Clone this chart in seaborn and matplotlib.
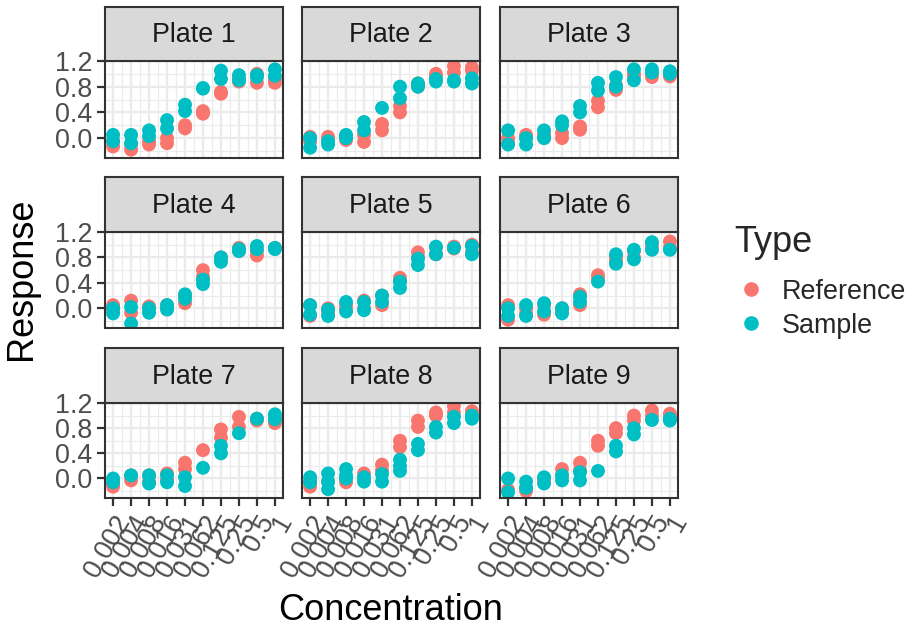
import matplotlib
matplotlib.use("Agg")
import matplotlib.pyplot as plt
from matplotlib.lines import Line2D
import pandas as pd
import seaborn as sns

sns.set_theme(style="white")
plt.rcParams["font.family"] = ["Liberation Sans", "DejaVu Sans"]

# Dilution series (x axis categories)
concentrations = ["0.002", "0.004", "0.008", "0.016", "0.031",
                  "0.062", "0.125", "0.25", "0.5", "1"]
type_order = ["Reference", "Sample"]
palette = {"Reference": "#F8766D", "Sample": "#00BFC4"}

# Replicate responses per concentration, one list per plate and type
reference_1 = [[-0.05, -0.13], [-0.10, -0.18], [-0.05, -0.10], [0.00, -0.08], [0.20, 0.15],
               [0.42, 0.38], [0.72, 0.69], [0.93, 0.88], [1.00, 0.86], [0.92, 0.86]]
sample_1 = [[0.05, -0.05], [0.05, -0.08], [0.12, 0.03], [0.28, 0.15], [0.52, 0.42],
            [0.78, 0.77], [1.05, 0.92], [0.98, 0.90], [0.98, 0.95], [1.07, 0.97]]

reference_2 = [[0.02, -0.05], [0.02, -0.03], [0.02, -0.03], [0.05, -0.06], [0.22, 0.12],
               [0.50, 0.40], [0.85, 0.80], [1.00, 0.97], [1.12, 1.02], [1.10, 1.05]]
sample_2 = [[0.00, -0.15], [-0.05, -0.10], [0.05, 0.00], [0.25, 0.12], [0.47],
            [0.80, 0.62], [0.85, 0.80], [0.92, 0.88], [0.90, 0.88], [0.93, 0.85]]

reference_3 = [[0.00, -0.08], [0.05, 0.00], [0.05, 0.00], [0.08, 0.00], [0.18, 0.13],
               [0.58, 0.48], [0.82, 0.75], [1.00, 0.95], [1.00, 0.95], [1.00, 0.96]]
sample_3 = [[0.12, -0.10], [0.00, -0.10], [0.12, 0.00], [0.26, 0.20], [0.50, 0.40],
            [0.86, 0.74], [0.95, 0.80], [1.07, 0.90], [1.07, 1.02], [1.04, 1.00]]

reference_4 = [[0.05, -0.02], [0.12, -0.07], [0.03, -0.02], [0.05, 0.00], [0.20, 0.08],
               [0.60, 0.50], [0.80, 0.75], [0.95, 0.90], [0.90, 0.83], [0.95]]
sample_4 = [[0.00, -0.08], [0.02, -0.24], [0.00, -0.07], [0.05, -0.02], [0.22, 0.15],
            [0.45, 0.38], [0.80, 0.73], [0.93, 0.90], [0.98, 0.93], [0.95, 0.93]]

reference_5 = [[0.05, -0.12], [0.00, -0.06], [0.05, -0.02], [0.12, 0.00], [0.20, 0.05],
               [0.48, 0.42], [0.88, 0.80], [0.95, 0.85], [0.97, 0.94], [1.00, 0.88]]
sample_5 = [[0.05, -0.10], [-0.02, -0.12], [0.10, -0.05], [0.10, -0.03], [0.20, 0.10],
            [0.42, 0.32], [0.78, 0.68], [0.97, 0.85], [0.95], [0.98, 0.85]]

reference_6 = [[0.05, -0.18], [0.00, -0.08], [0.05, -0.10], [0.00, -0.05], [0.22, 0.05],
               [0.52, 0.46], [0.82, 0.75], [0.90, 0.80], [1.02, 0.95], [1.05, 0.95]]
sample_6 = [[0.00, -0.12], [0.05, -0.12], [0.08, -0.05], [0.00, -0.08], [0.18, 0.10],
            [0.42], [0.85, 0.70], [0.92, 0.77], [1.04, 0.92], [0.92]]

reference_7 = [[-0.08, -0.13], [0.05, -0.03], [0.05, -0.05], [0.08, -0.02], [0.25, 0.15],
               [0.45], [0.78, 0.65], [0.98, 0.82], [0.95, 0.92], [0.95, 0.88]]
sample_7 = [[0.00, -0.06], [0.05], [0.05, -0.08], [0.05, -0.06], [0.02, -0.12],
            [0.17], [0.52, 0.40], [0.72], [0.95], [1.02, 0.94]]

reference_8 = [[-0.05, -0.13], [-0.05], [0.00, -0.06], [0.08, 0.00], [0.22, 0.13],
               [0.60, 0.50], [0.92, 0.82], [1.05, 1.00], [1.15, 1.05], [1.07, 1.00]]
sample_8 = [[0.02, -0.06], [0.08, -0.05, -0.17], [0.15, 0.05, 0.00], [0.02, -0.05], [0.07, -0.05],
            [0.30, 0.20, 0.12], [0.55, 0.45], [0.82, 0.73], [0.98, 0.88], [1.00, 0.95]]

reference_9 = [[-0.18], [-0.15, -0.20], [0.00, -0.05], [0.15, 0.05], [0.25, 0.13],
               [0.60, 0.52], [0.80, 0.72], [1.00, 0.92], [1.08, 1.00], [1.03, 0.98]]
sample_9 = [[0.00, -0.22], [-0.05, -0.15], [0.02, -0.08], [0.05, -0.03], [0.10, -0.03],
            [0.12], [0.52, 0.43], [0.80, 0.70], [0.93], [0.95, 0.92]]

reference_sets = [reference_1, reference_2, reference_3, reference_4, reference_5,
                  reference_6, reference_7, reference_8, reference_9]
sample_sets = [sample_1, sample_2, sample_3, sample_4, sample_5,
               sample_6, sample_7, sample_8, sample_9]

records = []
for plate_no, (ref, smp) in enumerate(zip(reference_sets, sample_sets), start=1):
    for kind, series in (("Reference", ref), ("Sample", smp)):
        for ci, values in enumerate(series):
            for v in values:
                records.append({"Plate": f"Plate {plate_no}",
                                "Concentration": concentrations[ci],
                                "pos": ci + 1, "Type": kind, "Response": v})
df = pd.DataFrame(records)

W, H = 916, 632
fig = plt.figure(figsize=(W / 100, H / 100), dpi=100)


def rect(left, top, width, height):
    return [left / W, 1 - (top + height) / H, width / W, height / H]


col_left = [105, 302, 500]
panel_w = 178
strip_top = [7, 177, 348]
plot_top = [61, 232, 403]
plot_bot = [158, 328, 498]

BORDER = "#333333"
GRID = "#EBEBEB"
TICKTXT = "#4D4D4D"

for idx in range(9):
    r, c = divmod(idx, 3)
    plate = f"Plate {idx + 1}"
    sub = df[df["Plate"] == plate]

    ax = fig.add_axes(rect(col_left[c], plot_top[r], panel_w, plot_bot[r] - plot_top[r]))
    ax.set_facecolor("white")
    sns.scatterplot(data=sub, x="pos", y="Response", hue="Type", hue_order=type_order,
                    palette=palette, s=100, linewidth=0, legend=False, ax=ax, zorder=3)
    ax.set_xlim(0.55, 10.45)
    ax.set_ylim(-0.31, 1.19)
    ax.set_xticks(range(1, 11))
    ax.set_xticks([i + 0.5 for i in range(1, 10)], minor=True)
    ax.set_yticks([0.0, 0.4, 0.8, 1.2])
    ax.set_yticks([-0.2, 0.2, 0.6, 1.0], minor=True)
    ax.grid(which="major", color=GRID, linewidth=1.7)
    ax.grid(which="minor", color=GRID, linewidth=0.85)
    ax.set_axisbelow(True)
    for sp in ax.spines.values():
        sp.set_color(BORDER)
        sp.set_linewidth(1.5)
        sp.set_zorder(5)
    ax.set_xlabel("")
    ax.set_ylabel("")
    ax.tick_params(which="minor", length=0)
    ax.tick_params(which="major", length=6, width=1.6, color=BORDER,
                   labelsize=19.4, labelcolor=TICKTXT, pad=3)
    ax.tick_params(axis="x", bottom=(r == 2), labelbottom=(r == 2))
    ax.tick_params(axis="y", left=(c == 0), labelleft=(c == 0))
    if c == 0:
        ax.set_yticklabels(["0.0", "0.4", "0.8", "1.2"])
    if r == 2:
        ax.set_xticklabels(concentrations, rotation=60, ha="right", va="top",
                           rotation_mode="anchor")

    sax = fig.add_axes(rect(col_left[c], strip_top[r], panel_w, plot_top[r] - strip_top[r]))
    sax.set_facecolor("#D9D9D9")
    sax.set_xticks([])
    sax.set_yticks([])
    for sp in sax.spines.values():
        sp.set_color(BORDER)
        sp.set_linewidth(1.5)
    sax.text(0.5, 0.48, plate, ha="center", va="center", fontsize=19.4,
             color="#1A1A1A", transform=sax.transAxes)

fig.text(22 / W, 1 - 279 / H, "Response", rotation=90, ha="center", va="center",
         fontsize=26, color="black")
fig.text(391 / W, 1 - 611 / H, "Concentration", ha="center", va="center",
         fontsize=26, color="black")

handles = [Line2D([], [], marker="o", linestyle="", markersize=10.5,
                  markerfacecolor=palette[t], markeredgewidth=0) for t in type_order]
leg = fig.legend(handles, type_order, title="Type", loc="upper left",
                 bbox_to_anchor=(721 / W, 1 - 212 / H), frameon=False,
                 fontsize=19.4, title_fontsize=26, alignment="left",
                 handletextpad=0.55, labelspacing=0.3, borderpad=0, handlelength=1.2)
# extra room between the legend title and its keys
leg._legend_box.sep = 13

fig.savefig("out.png", dpi=100)
